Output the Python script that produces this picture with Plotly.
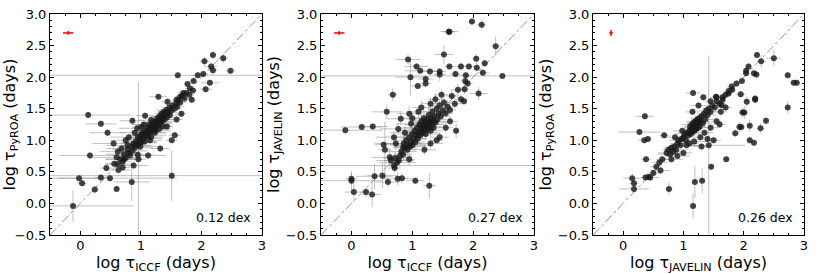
import plotly.graph_objects as go

# ---------------- data (x, y, x_err, y_err) ----------------
p1_points = [
    (2.19, 2.35, 0.05, 0.06), (2.36, 2.30, 0.08, 0.08), (2.05, 2.25, 0.08, 0.07), (2.16, 2.17, 0.10, 0.06),
    (2.19, 2.11, 0.08, 0.08), (2.48, 2.10, 0.08, 0.05), (1.61, 2.03, 3.50, 0.03), (1.94, 2.03, 0.10, 0.05),
    (2.03, 2.05, 0.08, 0.05), (1.87, 1.94, 0.05, 0.05), (2.14, 1.91, 0.15, 0.04), (1.77, 1.89, 0.06, 0.04),
    (1.81, 1.82, 0.08, 0.05), (2.07, 1.81, 0.10, 0.05), (1.70, 1.75, 0.10, 0.05), (1.80, 1.72, 0.08, 0.04),
    (1.84, 1.64, 0.06, 0.05), (1.29, 1.69, 0.15, 0.05), (1.44, 1.61, 0.10, 0.05), (1.59, 1.64, 0.06, 0.05),
    (1.65, 1.69, 0.08, 0.05), (1.86, 1.79, 0.06, 0.05), (0.13, 1.40, 0.70, 0.04), (0.34, 1.26, 0.25, 0.05),
    (0.45, 1.12, 0.30, 0.05), (0.86, 1.31, 0.20, 0.06), (0.96, 0.70, 0.12, 1.22), (0.16, 0.76, 0.50, 0.06),
    (-0.02, 0.40, 0.35, 0.05), (0.03, 0.32, 0.08, 0.05), (-0.12, -0.04, 1.00, 0.25), (0.24, 0.22, 0.06, 0.05),
    (0.34, 0.41, 0.10, 0.05), (0.60, 0.23, 0.05, 0.05), (0.85, 0.34, 0.30, 0.30), (0.49, 0.40, 1.10, 0.05),
    (1.51, 0.44, 3.50, 0.40), (0.43, 0.56, 0.10, 0.05), (0.56, 0.63, 0.15, 0.05), (0.63, 0.53, 0.20, 0.05),
    (0.70, 0.57, 0.12, 0.05), (0.68, 0.87, 0.25, 0.06), (1.12, 0.76, 0.30, 0.06), (1.07, 1.39, 0.15, 0.05),
    (1.01, 1.21, 0.12, 0.05), (0.94, 1.19, 0.30, 0.05), (0.95, 0.77, 0.25, 0.05), (1.32, 0.87, 0.15, 0.05),
    (1.51, 1.00, 0.10, 0.05), (1.56, 1.08, 0.10, 0.05), (1.43, 1.22, 0.10, 0.05), (1.59, 1.33, 0.10, 0.05),
    (1.67, 1.42, 0.08, 0.05), (0.55, 0.95, 0.35, 0.05), (0.62, 0.82, 0.30, 0.05), (0.75, 1.00, 0.25, 0.05),
    (0.80, 1.05, 0.30, 0.05), (0.90, 1.12, 0.25, 0.05), (0.60, 0.73, 0.40, 0.05), (0.72, 0.70, 0.30, 0.05),
    (0.88, 0.60, 0.25, 0.05), (0.78, 0.92, 0.35, 0.05),
    (0.62, 0.62, 0.20, 0.05), (0.66, 0.70, 0.25, 0.06), (0.70, 0.66, 0.15, 0.05), (0.72, 0.78, 0.30, 0.05),
    (0.75, 0.72, 0.20, 0.06), (0.78, 0.85, 0.25, 0.05), (0.80, 0.80, 0.15, 0.05), (0.82, 0.76, 0.30, 0.08),
    (0.85, 0.90, 0.20, 0.05), (0.86, 0.83, 0.25, 0.05), (0.88, 0.95, 0.15, 0.06), (0.90, 0.88, 0.30, 0.05),
    (0.92, 0.98, 0.20, 0.05), (0.94, 0.92, 0.25, 0.05), (0.95, 1.05, 0.15, 0.05), (0.97, 0.96, 0.30, 0.06),
    (0.98, 1.02, 0.20, 0.05), (1.00, 1.08, 0.15, 0.05), (1.01, 0.97, 0.25, 0.05), (1.02, 1.12, 0.20, 0.06),
    (1.04, 1.03, 0.30, 0.05), (1.05, 1.10, 0.15, 0.05), (1.06, 0.98, 0.20, 0.05), (1.08, 1.15, 0.25, 0.05),
    (1.09, 1.06, 0.15, 0.06), (1.10, 1.12, 0.20, 0.05), (1.11, 1.20, 0.25, 0.05), (1.12, 1.08, 0.30, 0.05),
    (1.13, 1.16, 0.15, 0.05), (1.14, 1.25, 0.20, 0.06), (1.15, 1.12, 0.25, 0.05), (1.16, 1.19, 0.15, 0.05),
    (1.17, 1.05, 0.20, 0.05), (1.18, 1.22, 0.25, 0.05), (1.19, 1.15, 0.15, 0.06), (1.20, 1.28, 0.20, 0.05),
    (1.21, 1.18, 0.25, 0.05), (1.22, 1.24, 0.15, 0.05), (1.23, 1.12, 0.20, 0.05), (1.24, 1.30, 0.15, 0.06),
    (1.25, 1.21, 0.20, 0.05), (1.26, 1.27, 0.25, 0.05), (1.27, 1.35, 0.15, 0.05), (1.28, 1.24, 0.20, 0.05),
    (1.29, 1.31, 0.15, 0.06), (1.30, 1.18, 0.20, 0.05), (1.31, 1.38, 0.15, 0.05), (1.32, 1.28, 0.20, 0.05),
    (1.33, 1.34, 0.15, 0.05), (1.34, 1.42, 0.12, 0.06), (1.35, 1.30, 0.20, 0.05), (1.36, 1.37, 0.15, 0.05),
    (1.38, 1.45, 0.12, 0.05), (1.39, 1.33, 0.15, 0.05), (1.40, 1.40, 0.12, 0.06), (1.42, 1.48, 0.15, 0.05),
    (1.43, 1.36, 0.12, 0.05), (1.45, 1.44, 0.15, 0.05), (1.47, 1.52, 0.12, 0.05), (1.48, 1.40, 0.15, 0.05),
    (1.50, 1.47, 0.12, 0.05), (1.52, 1.55, 0.10, 0.05), (1.55, 1.50, 0.12, 0.05), (1.58, 1.58, 0.10, 0.05),
    (1.60, 1.53, 0.12, 0.05), (1.62, 1.63, 0.10, 0.05), (1.65, 1.60, 0.10, 0.05), (1.68, 1.70, 0.10, 0.05),
    (1.72, 1.66, 0.10, 0.05), (1.75, 1.75, 0.08, 0.05), (1.17, 1.32, 0.20, 0.05), (1.24, 1.15, 0.25, 0.05),
    (1.05, 1.25, 0.20, 0.05), (0.99, 0.90, 0.30, 0.06), (1.15, 1.00, 0.20, 0.05), (1.36, 1.22, 0.15, 0.05),
]

p2_points = [
    (1.98, 2.88, 0.05, 0.05), (2.14, 2.83, 0.08, 0.08), (1.61, 2.72, 0.15, 0.05), (1.60, 2.72, 0.10, 0.05),
    (2.37, 2.49, 0.08, 0.15), (0.93, 2.28, 0.20, 0.08), (1.52, 2.36, 0.15, 0.15), (2.05, 2.29, 0.06, 0.08),
    (2.19, 2.22, 0.05, 0.05), (1.61, 2.17, 0.08, 0.05), (1.80, 2.17, 0.10, 0.06), (1.93, 2.17, 0.08, 0.05),
    (2.06, 2.15, 0.05, 0.06), (1.07, 2.17, 0.20, 0.05), (1.13, 2.10, 0.25, 0.05), (1.29, 2.09, 0.20, 0.05),
    (1.45, 2.09, 0.10, 0.05), (1.45, 2.04, 0.10, 0.10), (1.71, 2.05, 0.08, 0.05), (1.88, 2.03, 0.08, 0.05),
    (2.16, 2.07, 0.10, 0.05), (2.48, 2.02, 3.50, 0.03), (0.97, 2.00, 0.25, 0.30), (1.22, 1.97, 0.12, 0.05),
    (1.22, 1.90, 0.08, 0.05), (1.09, 1.86, 0.10, 0.05), (1.87, 1.94, 0.08, 0.05), (1.91, 1.90, 0.08, 0.05),
    (1.86, 1.81, 0.06, 0.08), (2.09, 1.74, 0.15, 0.10), (1.85, 1.62, 0.05, 0.06), (0.68, 1.72, 0.08, 0.10),
    (0.58, 1.45, 0.25, 0.10), (0.17, 1.21, 0.35, 0.05), (0.35, 1.22, 0.25, 0.05), (-0.10, 1.16, 0.60, 0.05),
    (1.72, 1.15, 0.05, 0.12), (1.40, 1.00, 0.10, 0.05), (0.53, 0.93, 0.15, 0.05), (0.38, 0.43, 0.30, 0.20),
    (0.51, 0.44, 0.25, 0.20), (0.00, 0.39, 0.10, 0.10), (0.00, 0.36, 0.50, 0.15), (0.04, 0.18, 0.15, 0.15),
    (0.24, 0.18, 0.08, 0.08), (0.34, 0.14, 0.15, 0.20), (0.60, 0.34, 0.20, 0.08), (0.76, 0.39, 0.25, 0.10),
    (0.83, 0.40, 0.10, 0.08), (1.05, 0.36, 0.15, 0.05), (1.28, 0.28, 0.10, 0.20), (0.71, 0.56, 0.10, 0.08),
    (0.78, 0.68, 0.25, 0.10), (0.63, 0.73, 0.30, 0.15), (0.95, 0.70, 0.10, 0.10), (0.85, 0.89, 0.15, 0.05),
    (0.70, 0.60, 3.50, 0.05), (0.55, 0.85, 0.10, 0.45),
    (0.80, 0.75, 0.20, 0.10), (0.82, 0.82, 0.25, 0.08), (0.85, 0.78, 0.15, 0.10), (0.86, 0.95, 0.30, 0.12),
    (0.88, 0.88, 0.20, 0.08), (0.90, 1.00, 0.25, 0.10), (0.92, 0.85, 0.15, 0.08), (0.93, 0.93, 0.30, 0.10),
    (0.95, 1.05, 0.20, 0.12), (0.96, 0.90, 0.25, 0.08), (0.98, 0.97, 0.15, 0.10), (1.00, 1.10, 0.20, 0.10),
    (1.00, 0.92, 0.30, 0.08), (1.02, 1.02, 0.20, 0.10), (1.04, 1.15, 0.25, 0.12), (1.05, 0.97, 0.15, 0.08),
    (1.06, 1.08, 0.20, 0.10), (1.08, 1.20, 0.25, 0.10), (1.09, 1.03, 0.15, 0.08), (1.10, 1.12, 0.20, 0.10),
    (1.12, 1.25, 0.25, 0.12), (1.13, 1.08, 0.15, 0.08), (1.14, 1.16, 0.20, 0.10), (1.15, 1.30, 0.15, 0.10),
    (1.16, 1.20, 0.20, 0.08), (1.17, 1.12, 0.25, 0.10), (1.18, 1.24, 0.15, 0.10), (1.19, 1.35, 0.20, 0.12),
    (1.20, 1.17, 0.15, 0.08), (1.21, 1.28, 0.20, 0.10), (1.22, 1.10, 0.25, 0.10), (1.23, 1.22, 0.15, 0.08),
    (1.24, 1.32, 0.20, 0.10), (1.25, 1.18, 0.15, 0.10), (1.26, 1.26, 0.20, 0.08), (1.27, 1.40, 0.15, 0.12),
    (1.28, 1.22, 0.20, 0.10), (1.29, 1.30, 0.15, 0.08), (1.30, 1.15, 0.20, 0.10), (1.31, 1.35, 0.15, 0.10),
    (1.32, 1.25, 0.20, 0.08), (1.33, 1.45, 0.15, 0.10), (1.34, 1.30, 0.20, 0.10), (1.35, 1.20, 0.15, 0.08),
    (1.36, 1.38, 0.15, 0.10), (1.38, 1.28, 0.20, 0.10), (1.40, 1.50, 0.15, 0.10), (1.41, 1.33, 0.15, 0.08),
    (1.43, 1.42, 0.15, 0.10), (1.45, 1.55, 0.12, 0.10), (1.47, 1.38, 0.15, 0.08), (1.50, 1.47, 0.12, 0.10),
    (1.52, 1.60, 0.12, 0.10), (1.55, 1.43, 0.12, 0.08), (1.58, 1.53, 0.12, 0.10), (1.62, 1.48, 0.10, 0.08),
    (1.65, 1.70, 0.10, 0.10), (1.70, 1.58, 0.10, 0.08), (1.75, 1.80, 0.10, 0.10), (1.80, 1.65, 0.10, 0.08),
    (0.77, 1.18, 0.30, 0.10), (0.81, 1.34, 0.25, 0.10), (0.95, 1.42, 0.20, 0.12), (0.98, 1.26, 0.25, 0.10),
    (0.70, 1.05, 0.30, 0.10), (0.73, 0.95, 0.35, 0.10), (0.88, 1.12, 0.25, 0.10), (1.00, 1.35, 0.20, 0.10),
    (1.10, 1.45, 0.15, 0.10), (1.15, 1.52, 0.15, 0.10), (1.30, 1.58, 0.15, 0.10), (1.38, 1.65, 0.12, 0.08),
    (1.48, 1.72, 0.12, 0.08), (1.20, 0.85, 0.20, 0.08), (1.30, 0.95, 0.20, 0.08), (1.45, 1.05, 0.15, 0.08),
    (1.55, 1.20, 0.12, 0.08), (1.62, 1.30, 0.12, 0.08), (0.65, 0.68, 0.25, 0.10), (0.72, 0.72, 0.20, 0.10),
    (0.75, 0.65, 0.30, 0.10),
]

p3_points = [
    (2.22, 2.35, 0.05, 0.05), (2.50, 2.30, 0.12, 0.12), (2.08, 2.17, 0.05, 0.05), (2.29, 2.25, 0.08, 0.10),
    (2.04, 2.10, 0.05, 0.06), (2.04, 2.06, 0.05, 0.05), (2.17, 2.06, 0.06, 0.05), (2.21, 2.04, 0.05, 0.05),
    (1.97, 1.94, 0.05, 0.05), (2.73, 2.03, 0.05, 0.05), (2.83, 1.91, 0.05, 0.05), (2.88, 1.91, 0.05, 0.05),
    (2.73, 1.52, 0.04, 0.10), (1.81, 1.80, 0.05, 0.05), (1.75, 1.74, 0.05, 0.05), (1.16, 1.75, 0.12, 0.05),
    (1.33, 1.68, 0.05, 0.05), (1.54, 1.69, 0.06, 0.05), (1.65, 1.64, 0.05, 0.05), (1.63, 1.56, 0.06, 0.06),
    (1.95, 1.73, 0.08, 0.05), (2.05, 1.61, 0.05, 0.08), (2.19, 1.66, 0.05, 0.05), (2.19, 1.64, 0.05, 0.05),
    (2.01, 1.44, 0.05, 0.10), (1.98, 1.44, 0.05, 0.08), (1.93, 1.21, 0.05, 0.08), (1.96, 1.21, 0.05, 0.06),
    (2.10, 1.23, 0.05, 0.10), (2.37, 1.31, 0.05, 0.06), (2.28, 1.19, 0.06, 0.08), (1.86, 1.11, 0.06, 0.06),
    (2.10, 1.00, 0.05, 0.05), (2.17, 0.96, 0.05, 0.05), (1.71, 0.70, 0.05, 0.05), (1.46, 0.58, 0.05, 0.05),
    (0.36, 1.38, 0.15, 0.05), (0.27, 1.13, 0.35, 0.05), (0.35, 1.00, 0.10, 0.05), (0.41, 1.02, 0.06, 0.05),
    (0.38, 0.70, 0.08, 0.05), (0.15, 0.40, 0.15, 0.08), (0.18, 0.32, 0.08, 0.05), (0.18, 0.23, 0.25, 0.05),
    (0.37, 0.41, 0.06, 0.05), (0.42, 0.42, 0.06, 0.05), (0.45, 0.41, 0.15, 0.05), (0.76, 0.23, 0.06, 0.10),
    (1.19, 0.34, 0.05, 0.25), (1.31, 0.36, 0.05, 0.20), (1.16, -0.04, 0.05, 0.20), (0.68, 1.08, 0.08, 0.05),
    (1.42, 0.92, 0.60, 1.42),
    (0.72, 0.80, 0.15, 0.05), (0.75, 0.85, 0.10, 0.05), (0.78, 0.78, 0.20, 0.05), (0.80, 0.88, 0.12, 0.06),
    (0.83, 0.82, 0.15, 0.05), (0.85, 0.90, 0.10, 0.05), (0.88, 0.85, 0.20, 0.05), (0.90, 0.95, 0.12, 0.06),
    (0.92, 1.00, 0.15, 0.05), (0.95, 0.92, 0.10, 0.05), (0.97, 1.02, 0.15, 0.05), (1.00, 1.05, 0.12, 0.06),
    (1.02, 1.10, 0.15, 0.05), (1.04, 1.00, 0.10, 0.05), (1.06, 1.12, 0.15, 0.05), (1.08, 1.08, 0.12, 0.06),
    (1.10, 1.15, 0.15, 0.05), (1.11, 1.22, 0.10, 0.05), (1.12, 1.10, 0.15, 0.05), (1.13, 1.18, 0.12, 0.06),
    (1.14, 1.25, 0.15, 0.05), (1.15, 1.13, 0.10, 0.05), (1.16, 1.20, 0.15, 0.05), (1.17, 1.28, 0.12, 0.06),
    (1.18, 1.15, 0.15, 0.05), (1.19, 1.23, 0.10, 0.05), (1.20, 1.30, 0.15, 0.05), (1.21, 1.18, 0.12, 0.06),
    (1.22, 1.26, 0.15, 0.05), (1.23, 1.33, 0.10, 0.05), (1.24, 1.20, 0.15, 0.05), (1.25, 1.28, 0.12, 0.06),
    (1.26, 1.35, 0.15, 0.05), (1.27, 1.22, 0.10, 0.05), (1.28, 1.30, 0.15, 0.05), (1.30, 1.38, 0.12, 0.06),
    (1.32, 1.27, 0.15, 0.05), (1.34, 1.42, 0.10, 0.05), (1.36, 1.33, 0.15, 0.05), (1.38, 1.47, 0.12, 0.06),
    (1.40, 1.40, 0.15, 0.05), (1.42, 1.50, 0.10, 0.05), (1.45, 1.45, 0.12, 0.05), (1.48, 1.55, 0.10, 0.06),
    (1.52, 1.52, 0.12, 0.05), (1.55, 1.62, 0.10, 0.05), (1.60, 1.58, 0.10, 0.05), (1.65, 1.68, 0.08, 0.05),
    (1.70, 1.72, 0.08, 0.05), (1.75, 1.78, 0.08, 0.05), (1.80, 1.85, 0.08, 0.05), (1.88, 1.90, 0.06, 0.05),
    (0.55, 0.58, 0.10, 0.05), (0.60, 0.65, 0.12, 0.05), (0.65, 0.70, 0.10, 0.05), (0.50, 0.48, 0.10, 0.05),
    (0.62, 0.52, 0.15, 0.05), (0.86, 1.05, 0.20, 0.05), (0.98, 1.15, 0.15, 0.05), (1.05, 0.92, 0.20, 0.05),
    (1.10, 0.95, 0.15, 0.05), (1.18, 0.98, 0.20, 0.05), (1.28, 1.05, 0.15, 0.05), (1.35, 1.12, 0.15, 0.05),
    (1.40, 1.02, 0.15, 0.05), (1.45, 1.20, 0.12, 0.05), (1.55, 1.30, 0.10, 0.05), (1.60, 1.25, 0.10, 0.05),
    (1.50, 1.00, 0.12, 0.05), (1.30, 0.90, 0.15, 0.05), (0.90, 0.75, 0.20, 0.05), (1.00, 0.80, 0.15, 0.05),
    (0.80, 0.70, 0.20, 0.05), (1.62, 1.45, 0.10, 0.05), (1.70, 1.52, 0.10, 0.05), (1.15, 1.45, 0.12, 0.05),
    (1.25, 1.55, 0.12, 0.05), (1.45, 1.62, 0.10, 0.05), (1.55, 1.68, 0.10, 0.05),
]

panel_xtitles = ["log τ<sub>ICCF</sub> (days)", "log τ<sub>ICCF</sub> (days)", "log τ<sub>JAVELIN</sub> (days)"]
panel_ytitles = ["log τ<sub>PyROA</sub> (days)", "log τ<sub>JAVELIN</sub> (days)", "log τ<sub>PyROA</sub> (days)"]
panel_scatter = ["0.12 dex", "0.27 dex", "0.26 dex"]
typical_err = [(-0.2, 2.7, 0.085, 0.03), (-0.2, 2.7, 0.085, 0.03), (-0.2, 2.7, 0.03, 0.05)]
diag = [-0.5, 3.0]
x_ticks = [0, 1, 2, 3]
y_ticks = [-0.5, 0.0, 0.5, 1.0, 1.5, 2.0, 2.5, 3.0]

# ---------------- figure ----------------
W, H = 822, 274
ml, mr, mt, mb = 50, 18, 14, 39
plot_w = W - ml - mr
px_left = [50, 321, 593]
px_right = [262, 534, 804]

fig = go.Figure()
FONT = "DejaVu Sans"
ERRC = "rgba(140,140,140,0.55)"

for i, pts in enumerate([p1_points, p2_points, p3_points]):
    xa = "x" if i == 0 else f"x{i+1}"
    ya = "y" if i == 0 else f"y{i+1}"
    xs = [p[0] for p in pts]
    ys = [p[1] for p in pts]
    xe = [p[2] for p in pts]
    ye = [p[3] for p in pts]
    fig.add_trace(go.Scatter(x=diag, y=diag, mode="lines", xaxis=xa, yaxis=ya,
                             line=dict(color="rgba(110,110,110,0.9)", width=0.8, dash="dashdot"),
                             showlegend=False, hoverinfo="skip"))
    fig.add_trace(go.Scatter(
        x=xs, y=ys, mode="markers", xaxis=xa, yaxis=ya, showlegend=False,
        marker=dict(size=6, color="rgba(25,25,25,0.8)", line=dict(width=0)),
        error_x=dict(type="data", array=xe, color=ERRC, thickness=1, width=0),
        error_y=dict(type="data", array=ye, color=ERRC, thickness=1, width=0),
    ))
    tx, ty, tex, tey = typical_err[i]
    fig.add_trace(go.Scatter(
        x=[tx], y=[ty], mode="markers", xaxis=xa, yaxis=ya, showlegend=False,
        marker=dict(size=1, color="red", opacity=0),
        error_x=dict(type="data", array=[tex], color="red", thickness=1.5, width=0),
        error_y=dict(type="data", array=[tey], color="red", thickness=1.5, width=0),
    ))
    fig.add_annotation(x=2.36, y=-0.22, xref=xa, yref=ya, text=panel_scatter[i],
                       showarrow=False, font=dict(family=FONT, size=12.5, color="black"))

axis_common = dict(showline=True, linecolor="black", linewidth=1, mirror="allticks",
                   ticks="inside", ticklen=4, tickwidth=1, tickcolor="black",
                   showgrid=False, zeroline=False, automargin=False,
                   tickfont=dict(family=FONT, size=13, color="black"))

layout = dict(width=W, height=H, margin=dict(l=ml, r=mr, t=mt, b=mb, autoexpand=False),
              template="none",
              paper_bgcolor="white", plot_bgcolor="white",
              font=dict(family=FONT, color="black"))
for i in range(3):
    d0 = (px_left[i] - ml) / plot_w
    d1 = (px_right[i] - ml) / plot_w
    kx = "xaxis" if i == 0 else f"xaxis{i+1}"
    ky = "yaxis" if i == 0 else f"yaxis{i+1}"
    layout[kx] = dict(axis_common, domain=[d0, d1], range=[-0.5, 3.0], tickvals=x_ticks,
                      ticktext=[str(v) for v in x_ticks], anchor="y" if i == 0 else f"y{i+1}",
                      ticklabelstandoff=-2,
                      minor=dict(dtick=0.25, tick0=0, ticks="inside", ticklen=2, tickcolor="black"),
                      title=dict(text=panel_xtitles[i], font=dict(family=FONT, size=16), standoff=0))
    layout[ky] = dict(axis_common, domain=[0, 1], range=[-0.5, 3.0], tickvals=y_ticks,
                      tickformat=".1f", anchor="x" if i == 0 else f"x{i+1}",
                      minor=dict(dtick=0.1, tick0=0, ticks="inside", ticklen=2, tickcolor="black"),
                      title=dict(text=panel_ytitles[i], font=dict(family=FONT, size=16), standoff=2))
fig.update_layout(**layout)

fig.write_html("out.html", config={"displayModeBar": False})

# remove the browser's default page margin so the figure sits at the window's corner
with open("out.html", "r", encoding="utf-8") as fh:
    html = fh.read()
html = html.replace("<head>", "<head><style>html,body{margin:0;padding:0;overflow:hidden;}</style>", 1)
with open("out.html", "w", encoding="utf-8") as fh:
    fh.write(html)
